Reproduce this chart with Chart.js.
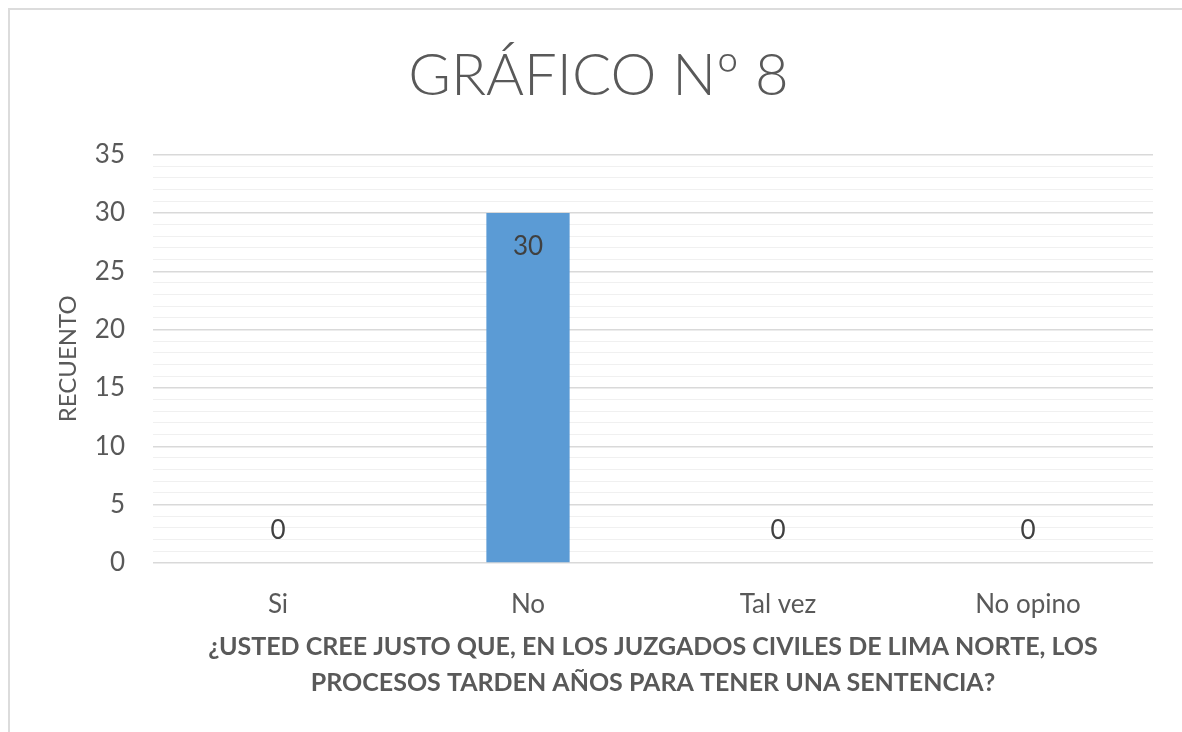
<!DOCTYPE html>
<html>
<head>
<meta charset="utf-8">
<script src="https://cdn.jsdelivr.net/npm/chart.js@4.4.1/dist/chart.umd.min.js"></script>
<style>
  html, body { margin: 0; padding: 0; background: #fff; }
  #wrap { position: relative; width: 1182px; height: 732px; overflow: hidden; }
  #frame { position: absolute; left: 8px; top: 8px; width: 1300px; height: 900px;
           border-left: 2px solid #dcdcdc; border-top: 2px solid #dcdcdc; }
  canvas { position: absolute; left: 0; top: 0; }
</style>
</head>
<body>
<div id="wrap">
  <div id="frame"></div>
  <canvas id="myChart" width="1182" height="732"></canvas>
</div>
<script>
const categories = ['Si', 'No', 'Tal vez', 'No opino'];
const counts = [0, 30, 0, 0];
const chartTitle = 'GRÁFICO Nº 8';
const yTitle = 'RECUENTO';
const xTitle = ['¿USTED CREE JUSTO QUE, EN LOS JUZGADOS CIVILES DE LIMA NORTE, LOS',
                'PROCESOS TARDEN AÑOS PARA TENER UNA SENTENCIA?'];

const grey = '#595959';

// value labels: inside the top of the bar, or above the axis when zero
const barLabels = {
    id: 'barLabels',
    afterDatasetsDraw(chart) {
        const ctx = chart.ctx;
        const meta = chart.getDatasetMeta(0);
        ctx.save();
        ctx.font = '26px Lato';
        ctx.fillStyle = '#404040';
        ctx.textAlign = 'center';
        ctx.textBaseline = 'middle';
        meta.data.forEach((bar, i) => {
            const v = chart.data.datasets[0].data[i];
            const y = v > 0 ? bar.y + 34 : bar.y - 32;
            ctx.fillText(String(v), bar.x, y);
        });
        ctx.restore();
    }
};

Chart.defaults.font.family = 'Lato';
Chart.defaults.color = grey;

const ctx = document.getElementById('myChart').getContext('2d');
const myChart = new Chart(ctx, {
    type: 'bar',
    data: {
        labels: categories,
        datasets: [{
            label: yTitle,
            data: counts,
            backgroundColor: '#5b9bd5',
            categoryPercentage: 1,
            barPercentage: 0.333
        }]
    },
    options: {
        responsive: false,
        animation: false,
        layout: { padding: { left: 44, right: 29, top: 0, bottom: 0 } },
        plugins: {
            legend: { display: false },
            tooltip: { enabled: false },
            title: {
                display: true,
                text: chartTitle,
                color: grey,
                font: { size: 58, weight: '300' },
                padding: { top: 41, bottom: 44 }
            }
        },
        scales: {
            x: {
                grid: { display: false, drawTicks: false },
                border: { display: false },
                ticks: { padding: 26, font: { size: 26 }, color: grey },
                title: {
                    display: true,
                    text: xTitle,
                    color: grey,
                    font: { size: 25, weight: 'bold', lineHeight: 1.44 },
                    padding: { top: 0, bottom: 31 }
                },
                afterFit(scale) { scale.height = 169; }
            },
            y: {
                min: 0,
                max: 35,
                grid: {
                    drawTicks: false,
                    color: c => (c.tick.value % 5 === 0 ? '#d9d9d9' : '#f0f0f0'),
                    lineWidth: c => (c.tick.value % 5 === 0 ? 1.5 : 1)
                },
                border: { display: false },
                ticks: {
                    stepSize: 1,
                    autoSkip: false,
                    padding: 28,
                    font: { size: 26 },
                    color: grey,
                    callback: v => (v % 5 === 0 ? v : '')
                },
                title: {
                    display: true,
                    text: yTitle,
                    color: grey,
                    font: { size: 24 },
                    padding: { top: 10, bottom: 0 }
                },
                afterFit(scale) { scale.width = 109; }
            }
        }
    },
    plugins: [barLabels]
});
</script>
</body>
</html>
